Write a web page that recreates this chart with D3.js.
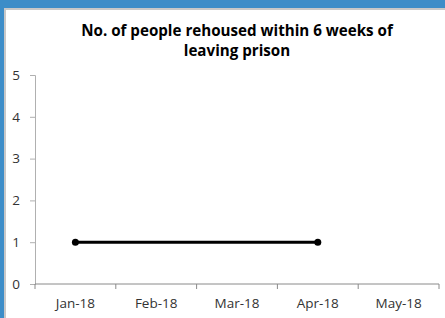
<!DOCTYPE html>
<html>
<head>
<meta charset="utf-8">
<script src="https://cdn.jsdelivr.net/npm/d3@7"></script>
<style>
  body { margin: 0; background: #3d8dc8; }
  svg { display: block; }
</style>
</head>
<body>
<svg id="chart"></svg>
<script>
// chart data
const months = ['Jan-18', 'Feb-18', 'Mar-18', 'Apr-18', 'May-18'];
const rehoused = [1, null, null, 1, null];
const yTicks = [0, 1, 2, 3, 4, 5];
const titleLines = ['No. of people rehoused within 6 weeks of', 'leaving prison'];

const width = 445;
const height = 318;
const marginTop = 75;
const marginRight = 6;
const marginBottom = 34;
const marginLeft = 35;

const svg = d3.select('#chart')
  .attr('width', width)
  .attr('height', height)
  .attr('viewBox', [0, 0, width, height]);

// white chart area with the grey edge of the excel frame
svg.append('rect')
  .attr('x', 4).attr('y', 8)
  .attr('width', width - 4).attr('height', height - 8)
  .attr('fill', '#c8c8c8');
svg.append('rect')
  .attr('x', 6).attr('y', 10)
  .attr('width', width - 6).attr('height', height - 10)
  .attr('fill', '#ffffff');

const font = '"Open Sans", sans-serif';

// title, sized so the first line is about as wide as in the source
const title = svg.append('g')
  .selectAll('text')
  .data(titleLines)
  .join('text')
  .attr('x', 237)
  .attr('y', (d, i) => 36 + i * 20)
  .attr('text-anchor', 'middle')
  .attr('font-family', font)
  .attr('font-weight', 'bold')
  .attr('font-size', 13)
  .attr('fill', '#000')
  .text((d) => d);
const firstLen = title.node().getComputedTextLength();
if (firstLen > 0) title.attr('font-size', 13 * 312 / firstLen);

const x = d3.scaleBand()
  .domain(months)
  .range([marginLeft, width - marginRight]);

const y = d3.scaleLinear()
  .domain([0, 5])
  .range([height - marginBottom, marginTop]);

// y axis
svg.append('g')
  .attr('transform', `translate(${marginLeft},0)`)
  .call(d3.axisLeft(y).tickValues(yTicks).tickFormat(d3.format('d'))
    .tickSize(5).tickSizeOuter(5).tickPadding(10))
  .call((g) => g.selectAll('line,path').attr('stroke', '#b0b0b0'))
  .call((g) => g.selectAll('text')
    .attr('font-family', font)
    .attr('font-size', 13.5)
    .attr('fill', '#333'));

// x axis with ticks between categories
const xAxis = svg.append('g')
  .attr('transform', `translate(0,${height - marginBottom})`);
xAxis.append('line')
  .attr('x1', x.range()[0]).attr('x2', x.range()[1])
  .attr('stroke', '#8a8a8a');
xAxis.selectAll('.tick-mark')
  .data(months.map((m) => x(m)).concat([x.range()[1]]))
  .join('line')
  .attr('class', 'tick-mark')
  .attr('x1', (d) => d).attr('x2', (d) => d)
  .attr('y1', 0).attr('y2', 5)
  .attr('stroke', '#8a8a8a');
xAxis.selectAll('text')
  .data(months)
  .join('text')
  .attr('x', (d) => x(d) + x.bandwidth() / 2)
  .attr('y', 24)
  .attr('text-anchor', 'middle')
  .attr('font-family', font)
  .attr('font-size', 13.5)
  .attr('fill', '#333')
  .text((d) => d);

// the series line (gaps joined, as in the source chart)
const points = months
  .map((m, i) => ({ month: m, value: rehoused[i] }))
  .filter((d) => d.value !== null);

svg.append('path')
  .datum(points)
  .attr('fill', 'none')
  .attr('stroke', '#000')
  .attr('stroke-width', 3)
  .attr('d', d3.line()
    .x((d) => x(d.month) + x.bandwidth() / 2)
    .y((d) => y(d.value)));

svg.append('g')
  .selectAll('circle')
  .data(points)
  .join('circle')
  .attr('cx', (d) => x(d.month) + x.bandwidth() / 2)
  .attr('cy', (d) => y(d.value))
  .attr('r', 3.5)
  .attr('fill', '#000');
</script>
</body>
</html>
